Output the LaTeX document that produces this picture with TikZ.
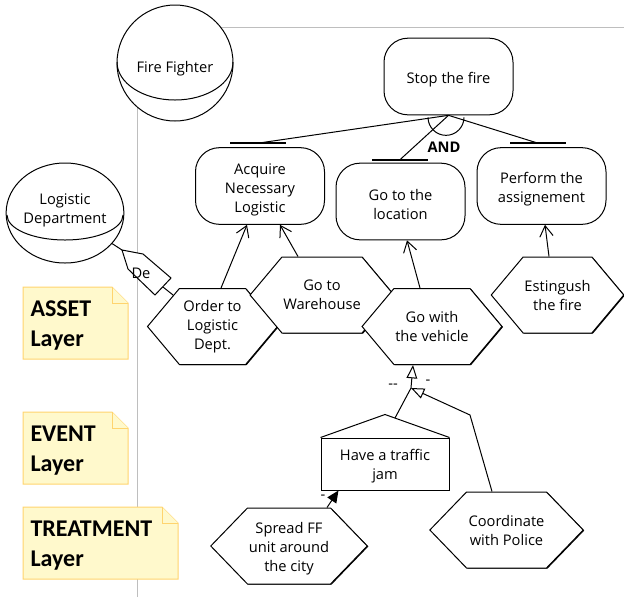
\documentclass[tikz,border=0pt]{standalone}
\usepackage{fontspec}
\setmainfont{Open Sans}
\newfontfamily\notefont{Carlito}
\usetikzlibrary{shapes.geometric,shapes.symbols,arrows.meta,calc,shadows}
\definecolor{notefill}{RGB}{255,249,204}
\definecolor{noteline}{RGB}{255,212,110}
\definecolor{lanegray}{RGB}{190,190,190}
\newcommand{\lift}{\rule{0pt}{13.5pt}}

\begin{document}
\begin{tikzpicture}[x=0.75pt,y=-0.75pt,line width=0.75pt,
  font=\fontsize{11}{14.25}\selectfont,
  goal/.style={draw,fill=white,rounded corners=18pt,minimum width=96.75pt,minimum height=57.5pt,align=center},
  task/.style={draw,fill=white,signal,signal to=west and east,signal pointer angle=100,
    minimum width=97.5pt,minimum height=57pt,align=center,inner sep=1pt,
    drop shadow={shadow xshift=0.8pt,shadow yshift=-0.4pt,fill=black,opacity=1}},
  widetask/.style={task,minimum width=115pt,signal pointer angle=92},
  actor/.style={draw,fill=white,circle,minimum size=87pt,align=center,inner sep=0pt},
  notebox/.style={draw=noteline,fill=notefill},
  notetext/.style={font=\notefont\bfseries\fontsize{18}{22.5}\selectfont,align=left,inner sep=0pt,anchor=north west},
  contrib/.style={-{Straight Barb[length=8pt,width=10pt]}},
  refine/.style={-{Triangle[open,length=10pt,width=8pt]}},
  cause/.style={-{Triangle[length=9pt,width=8pt]}}]
\useasboundingbox (0,0) rectangle (624,597);

% lane of the fire fighter
\draw[lanegray,line width=0.6pt] (137,597) -- (137,27) -- (624,27);

% actors
\node[actor] (ff) at (175,63) {\rule{0pt}{17pt}Fire Fighter};
\draw ($(ff.center)+(-58,-1)$) arc[start angle=180,end angle=0,x radius=58,y radius=38];
\node[actor,ellipse,minimum width=87pt,minimum height=75pt] (ld) at (65,213) {Logistic\\Department\rule[-7pt]{0pt}{7pt}};
\draw ($(ld.center)+(-58,2)$) arc[start angle=180,end angle=0,x radius=58,y radius=25];

% notes
\foreach \n/\t/\w/\txt in {asset/287/105/ASSET, event/412/105/EVENT, treat/507/155/TREATMENT} {
  \draw[notebox] (23,\t) -- ++(\w-16,0) -- ++(16,16) -- (23+\w,\t+72) -- (23,\t+72) -- cycle;
  \draw[notebox] (7+\w,\t) -- ++(0,16) -- ++(16,0);
  \node[notetext] (\n) at (30,\t+13) {\txt\\Layer};
}

% goals
\node[goal] (stop) at (448.5,76.5) {\lift Stop the fire};
\node[goal] (acq) at (260,186) {\lift Acquire\\Necessary\\Logistic};
\node[goal] (loc) at (400.5,201.5) {\lift Go to the\\location};
\node[goal] (perf) at (541.5,186) {\lift Perform the\\assignement};

\coordinate (acqbar) at ($(acq.north)+(-2,-4)$);
\coordinate (locbar) at ($(loc.north)+(-0.5,-3)$);
\coordinate (perfbar) at ($(perf.north)+(-3.5,-4)$);
\foreach \b in {acqbar,locbar,perfbar} {
  \draw[line width=1.4pt] ($(\b)+(-28,0)$) -- ($(\b)+(28,0)$);
  \draw (stop.south) -- (\b);
}
\draw ($(stop.south)+(-20.5,2)$) arc[start angle=180,end angle=0,radius=18];
\node[font=\bfseries\fontsize{11}{12}\selectfont] (and) at (444,147) {AND};

% tasks
\node[task] (ord) at (212.5,326.5) {Order to\\Logistic\\Dept.};
\node[task] (ware) at (322,295) {Go to\\Warehouse};
\node[task] (veh) at (432,326.5) {Go with\\the vehicle};
\node[task] (est) at (557.5,295) {Estingush\\the fire};
\node[widetask] (coord) at (506.5,530) {Coordinate\\with Police};
\node[widetask] (spread) at (289,546) {\rule{0pt}{12pt}Spread FF\\unit around\\the city};

% event
\node[draw,fill=white,minimum width=96pt,minimum height=39pt,align=center] (jam) at (385,464) {\rule{0pt}{12pt}Have a traffic\\jam};
\coordinate (jampeak) at ($(jam.north)+(0,-23)$);
\draw (jam.north west) -- (jampeak) -- (jam.north east);

% delegation tag
\draw[fill=white] (122,250) coordinate (detip) -- (143,254) -- (171,278) -- (155,295) -- (128,269) -- cycle;
\coordinate (debase) at (163,287);
\node (de) at (141,273) {De};
\draw (ld) -- (detip);
\draw (debase) -- (ord);

% contributions
\draw[contrib] ($(ord.north)+(8.5,0)$) -- ($(acq.south)+(-13,0)$);
\draw[contrib] ($(ware.north)+(-24,0)$) -- ($(acq.south)+(20,0)$);
\draw[contrib] ($(veh.north)+(-12,0)$) -- ($(loc.south)+(6.5,0)$);
\draw[contrib] ($(est.north)+(-8.5,0)$) -- ($(perf.south)+(3.5,0)$);

% event and treatments
\coordinate (jamfrom) at ($(jampeak)+(10,3.5)$);
\coordinate (joint) at (411,388);
\coordinate (polbend) at (470,415);
\draw (jamfrom) -- (joint);
\draw[refine] (joint) -- ($(veh.south)+(-19,0)$);
\draw[refine] ($(coord.north)+(-14.5,0)$) -- (polbend) -- (joint);
\node (s1) at (393,386) {-{}-};
\node (s2) at (428,382) {-};
\draw[cause] ($(spread.north)+(38,0)$) -- ($(jam.south west)+(18,0)$);
\node (s3) at (323,497) {-};
\end{tikzpicture}
\end{document}
